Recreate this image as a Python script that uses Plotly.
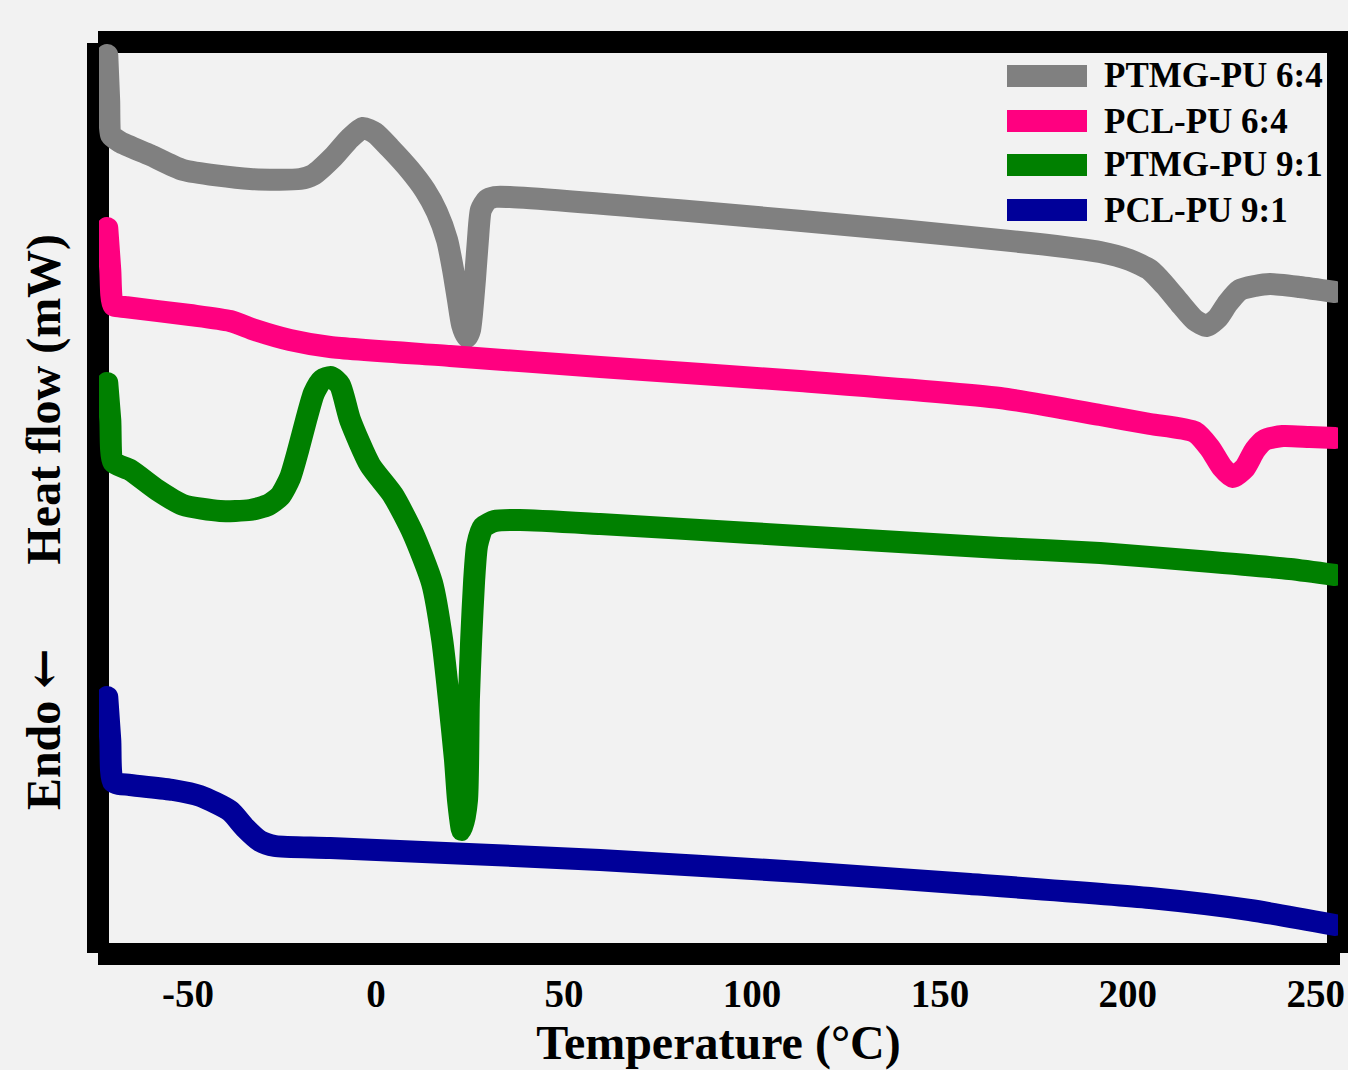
import plotly.graph_objects as go

# ---------------- data ----------------
series_names = ["PTMG-PU 6:4", "PCL-PU 6:4", "PTMG-PU 9:1", "PCL-PU 9:1"]
series_colors = ["#808080", "#FF0080", "#008000", "#000099"]

ptmg64_T = [-71.5, -71.0, -70.5, -68.1, -60.1, -51.3, -33.5, -20.2, -16.8, -11.4, -6.9, -3.5,
            -0.3, 3.7, 9.0, 13.0, 16.2, 18.9, 20.5, 21.8, 22.9, 24.2, 25.0, 25.5, 26.3, 27.1,
            27.9, 29.5, 31.6, 35.6, 86.2, 139.4, 173.9, 192.6, 200.5, 205.9, 209.8, 213.8,
            217.8, 221.0, 223.9, 226.6, 229.8, 233.8, 237.8, 245.7, 255.1]
ptmg64_H = [8.99, 8.54, 8.19, 8.12, 7.99, 7.84, 7.75, 7.75, 7.79, 7.97, 8.16, 8.26,
            8.21, 8.06, 7.84, 7.64, 7.42, 7.14, 6.84, 6.54, 6.29, 6.17, 6.24, 6.39, 6.74, 7.14,
            7.44, 7.54, 7.57, 7.57, 7.42, 7.24, 7.11, 7.02, 6.94, 6.84, 6.69, 6.51,
            6.34, 6.28, 6.36, 6.51, 6.64, 6.68, 6.70, 6.67, 6.62]

pcl64_T = [-71.5, -70.7, -69.9, -66.8, -49.5, -38.8, -32.2, -22.9, -12.2, 19.7, 59.6, 112.8,
           166.0, 192.6, 205.9, 217.8, 221.8, 225.0, 227.9, 231.1, 233.8, 236.4, 241.2, 248.4, 255.1]
pcl64_H = [7.26, 6.84, 6.49, 6.47, 6.39, 6.33, 6.24, 6.14, 6.07, 5.98, 5.87, 5.73,
           5.56, 5.39, 5.30, 5.22, 5.06, 4.87, 4.77, 4.86, 5.04, 5.14, 5.18, 5.17, 5.16]

ptmg91_T = [-71.5, -70.7, -69.9, -65.4, -58.2, -51.3, -41.5, -33.5, -28.7, -25.5, -22.9, -20.7,
            -18.6, -16.5, -14.4, -12.0, -9.6, -6.9, -1.6, 4.5, 9.8, 14.9, 17.6, 19.4, 21.0,
            21.8, 22.9, 24.2, 24.7, 25.3, 26.1, 26.9, 28.5, 31.6, 38.3, 59.6, 99.5, 166.0,
            192.6, 219.1, 243.1, 255.1]
ptmg91_H = [5.71, 5.34, 4.92, 4.84, 4.64, 4.49, 4.43, 4.44, 4.49, 4.58, 4.76, 5.04,
            5.34, 5.61, 5.74, 5.77, 5.69, 5.34, 4.89, 4.59, 4.21, 3.71, 3.14, 2.54, 1.94,
            1.54, 1.24, 1.54, 2.54, 3.14, 3.74, 4.09, 4.27, 4.33, 4.34, 4.30, 4.21, 4.06,
            4.01, 3.93, 3.85, 3.79]

pcl91_T = [-71.5, -70.7, -69.9, -65.4, -54.0, -46.8, -38.8, -34.8, -30.9, -26.9, -12.2, 59.6,
           112.8, 158.0, 205.9, 232.4, 255.1]
pcl91_H = [2.57, 2.14, 1.72, 1.69, 1.64, 1.58, 1.43, 1.26, 1.13, 1.08, 1.06, 0.94,
           0.82, 0.70, 0.56, 0.44, 0.29]

x_tickvals = [-50, 0, 50, 100, 150, 200, 250]
x_ticktext = ["-50", "0", "50", "100", "150", "200", "250"]

# ---------------- figure ----------------
W, H = 1348, 1070
ML, MR, MT, MB = 99, 10, 42, 116
PW, PH = W - ML - MR, H - MT - MB


def px_x(px):
    return (px - ML) / PW


def px_y(py):
    return (H - MB - py) / PH


BG = "#F2F2F2"
FONT = "Liberation Serif"

fig = go.Figure()
all_T = [ptmg64_T, pcl64_T, ptmg91_T, pcl91_T]
all_H = [ptmg64_H, pcl64_H, ptmg91_H, pcl91_H]
for name, color, T, Hf in zip(series_names, series_colors, all_T, all_H):
    fig.add_trace(go.Scatter(
        x=T, y=Hf, mode="lines", name=name,
        line=dict(color=color, width=22, shape="spline", smoothing=0.6),
        showlegend=False, hoverinfo="skip",
    ))

shapes = []
# thick black frame, drawn as four separate bars beneath the curves
frame = [
    (px_x(98), px_y(43), px_x(98), px_y(953)),     # left
    (px_x(98), px_y(42), px_x(1348), px_y(42)),    # top
    (px_x(1338), px_y(31), px_x(1338), px_y(953)), # right
    (px_x(98), px_y(954), px_x(1340), px_y(954)),  # bottom
]
for x0, y0, x1, y1 in frame:
    shapes.append(dict(type="line", xref="paper", yref="paper", x0=x0, y0=y0, x1=x1, y1=y1,
                       line=dict(color="black", width=22), layer="below"))

# legend (thick swatches + bold labels)
annotations = []
row_y = [76, 121, 165, 210]
for name, color, ry in zip(series_names, series_colors, row_y):
    shapes.append(dict(type="rect", xref="paper", yref="paper",
                       x0=px_x(1007), x1=px_x(1087), y0=px_y(ry + 11), y1=px_y(ry - 11),
                       fillcolor=color, line=dict(width=0), layer="above"))
    annotations.append(dict(text=name, xref="paper", yref="paper", x=px_x(1102), y=px_y(ry),
                            xanchor="left", yanchor="middle", showarrow=False,
                            font=dict(family=FONT, size=35, color="black", weight="bold")))

fig.update_layout(
    width=W, height=H,
    margin=dict(l=ML, r=MR, t=MT, b=MB, autoexpand=False),
    paper_bgcolor=BG, plot_bgcolor="rgba(0,0,0,0)",
    shapes=shapes, annotations=annotations,
    showlegend=False,
    font=dict(family=FONT, color="black"),
)
fig.update_xaxes(
    range=[-73.7, 255.9], showgrid=False, zeroline=False, showline=False,
    tickvals=x_tickvals, ticktext=x_ticktext, ticks="",
    ticklabelstandoff=13,
    tickfont=dict(family=FONT, size=39, color="black", weight="bold"),
    title=dict(text="Temperature (\u00b0C)", standoff=19,
               font=dict(family=FONT, size=48, color="black", weight="bold")),
)
y_title = ("Endo <span style='font-family:DejaVu Serif'>\u2190</span>" + "\u00a0" * 7
           + "Heat flow (mW)" + "\u00a0" * 4 + "\u200b")
fig.update_yaxes(
    range=[0, 9.12], showgrid=False, zeroline=False, showline=False,
    showticklabels=False, ticks="",
    title=dict(text=y_title, standoff=22,
               font=dict(family=FONT, size=48, color="black", weight="bold")),
)

post = (
    "document.body.style.margin='0';document.body.style.background='#F2F2F2';"
    "document.querySelectorAll('.scatterlayer path.js-line').forEach(function(p){"
    "p.style.strokeLinecap='round';p.style.strokeLinejoin='round';});"
)
fig.write_html("out.html", config={"displayModeBar": False}, post_script=post)
